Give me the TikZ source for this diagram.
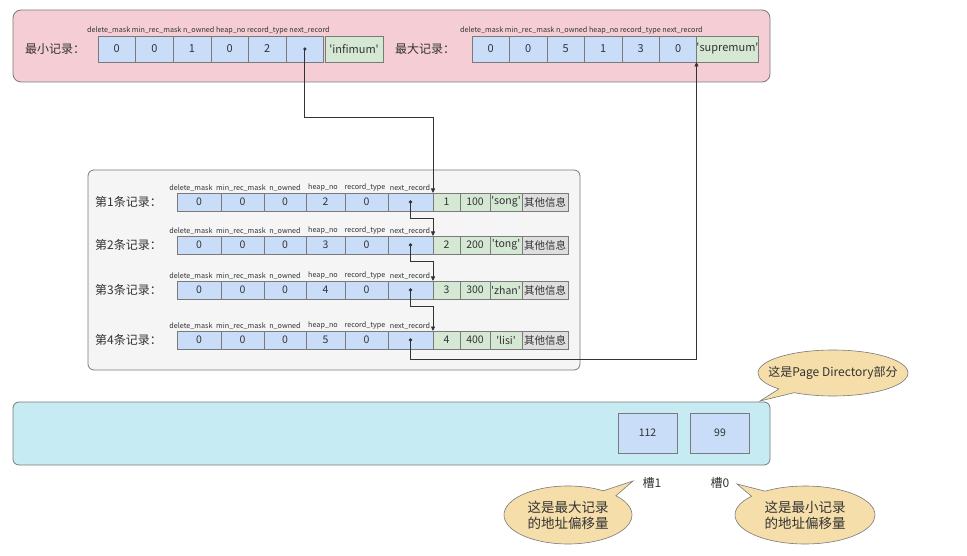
\documentclass[tikz,border=0pt]{standalone}
\usepackage{fontspec}
\setmainfont{Noto Sans CJK SC}
\usepackage{xcolor}
\definecolor{cInk}{HTML}{333333}
\definecolor{cLine}{HTML}{7A7A7A}
\definecolor{cPink}{HTML}{F4CED4}
\definecolor{cBlue}{HTML}{C9DDF8}
\definecolor{cGreen}{HTML}{D5E8D4}
\definecolor{cGrayCell}{HTML}{DEDEDE}
\definecolor{cPanel}{HTML}{F5F5F5}
\definecolor{cCyan}{HTML}{C6EBF2}
\definecolor{cNote}{HTML}{F5DEAA}
\usepackage{tikz}
\usetikzlibrary{positioning,arrows.meta,shapes.callouts}
\newcommand{\qs}[1]{\textquotesingle#1\textquotesingle}
\tikzset{
  panel-sys/.style={draw=cLine,fill=cPink,rounded corners=8pt,line width=0.8pt},
  panel-rec/.style={draw=cLine,fill=cPanel,rounded corners=6pt,line width=0.8pt},
  panel-dir/.style={draw=cLine,fill=cCyan,rounded corners=6pt,line width=0.8pt},
  cell/.style={draw=cLine,fill=cBlue,inner sep=0pt,outer sep=0pt,line width=0.5pt,
    minimum height=18pt,text=cInk,font=\fontsize{10.5}{12}\selectfont},
  cell-tall/.style={minimum height=26pt,minimum width=37.6pt,font=\fontsize{11}{13}\selectfont},
  cell-green/.style={fill=cGreen},
  cell-gray/.style={fill=cGrayCell},
  head/.style={inner sep=1pt,text=cInk,font=\fontsize{7.2}{8}\selectfont},
  label-big/.style={inner sep=0pt,text=cInk,font=\fontsize{12}{14}\selectfont},
  dot/.style={circle,fill=cInk,inner sep=0pt,minimum size=3.6pt},
  link/.style={-{Triangle[length=4.5pt,width=4pt]},draw=cInk,line width=0.7pt},
  slot/.style={draw=cLine,fill=cBlue,line width=0.6pt,minimum width=59pt,
    minimum height=40pt,text=cInk,font=\fontsize{10.5}{12}\selectfont},
  note/.style={ellipse callout,draw=cLine,fill=cNote,line width=0.6pt,align=center,
    inner sep=0pt,text=cInk},
}

\begin{document}
\begin{tikzpicture}[x=1pt,y=-1pt]
  \useasboundingbox (0,0) rectangle (967,556);
  % 系统记录
  \draw[panel-sys] (13,10) rectangle (770,82);
  \node[label-big,anchor=west] (inf-label) at (25,49) {最小记录：};
  \node[head,anchor=south west] (inf-head) at (86,35)
    {delete\_mask min\_rec\_mask n\_owned heap\_no record\_type next\_record};
  \foreach \v [count=\i] in {0,0,1,0,2,{}}
    \node[cell,cell-tall] (inf-\i) at (116.8+37.6*\i-37.6,49) {\v};
  \node[cell,cell-tall,cell-green,minimum width=58pt] (inf-7) at (354,49) {\qs{infimum}};
  \node[dot] (inf-dot) at (inf-6.center) {};

  \node[label-big,anchor=west] (sup-label) at (395,49) {最大记录：};
  \node[head,anchor=south west] (sup-head) at (459,35)
    {delete\_mask min\_rec\_mask n\_owned heap\_no record\_type next\_record};
  \foreach \v [count=\i] in {0,0,5,1,3,0}
    \node[cell,cell-tall,minimum width=37.5pt] (sup-\i) at (490.75+37.5*\i-37.5,49) {\v};
  \node[cell,cell-tall,cell-green,minimum width=61pt] (sup-7) at (727.5,49) {\qs{supremum}};

  % 用户记录
  \draw[panel-rec] (88,170) rectangle (580,370);
  \foreach \r/\y/\h/\amt/\who in {1/202/2/100/song,2/245/3/200/tong,3/290/4/300/zhan,4/340/5/400/lisi}{
    \node[label-big,anchor=west] (r\r-label) at (95,\y) {第\r{}条记录：};
    \foreach \x/\w/\v/\hx/\t [count=\i] in {199/44/0/191/delete\_mask,242.5/43/0/241/min\_rec\_mask,
        285/42/0/285/n\_owned,325.5/39/\h/323/heap\_no,366.5/43/0/365/record\_type,
        410.5/45/{}/410/next\_record}{
      \node[cell,minimum width=\w pt] (r\r-\i) at (\x,\y) {\v};
      \node[head,anchor=south] (r\r-h\i) at (\hx,\y-9.5) {\t};
    }
    \node[cell,cell-green,minimum width=27pt] (r\r-7) at (446.5,\y) {\r};
    \node[cell,cell-green,minimum width=30pt] (r\r-8) at (475,\y) {\amt};
    \node[cell,cell-green,minimum width=32pt] (r\r-9) at (506,\y) {\qs{\who}};
    \node[cell,cell-gray,minimum width=46pt] (r\r-10) at (545,\y) {其他信息};
    \node[dot] (r\r-dot) at (r\r-6.center) {};
  }

  \draw[link] (inf-dot.center) -- ++(0,68) -| (r1-7.north west);
  \foreach \a/\b in {1/2,2/3,3/4}
    \draw[link] (r\a-dot.center) -- ++(0,16) -| (r\b-7.north west);
  \draw[link] (r4-dot.center) -- ++(0,19) -| (sup-7.south west);

  % Page Directory
  \draw[panel-dir] (13,402) rectangle (770,465);
  \node[slot] (slot-1) at (647.5,433) {112};
  \node[slot] (slot-0) at (720,433) {99};
  \node[label-big] (slot-1-name) at (652,483) {槽1};
  \node[label-big] (slot-0-name) at (720,483) {槽0};

  \coordinate (dir-tip) at (760,401);
  \coordinate (max-tip) at (633,481);
  \coordinate (min-tip) at (737,484);
  \node[note,minimum width=150pt,minimum height=46pt,inner xsep=-14pt,
    font=\fontsize{12}{14}\selectfont,
    callout absolute pointer={(dir-tip)}] (dir-note) at (833,373) {这是Page Directory部分};
  \node[note,minimum width=128pt,minimum height=58pt,font=\fontsize{13.5}{16}\selectfont,
    callout absolute pointer={(max-tip)}] (max-note) at (568,515) {这是最大记录\\的地址偏移量};
  \node[note,minimum width=140pt,minimum height=58pt,font=\fontsize{13.5}{16}\selectfont,
    callout absolute pointer={(min-tip)}] (min-note) at (805,515) {这是最小记录\\的地址偏移量};
\end{tikzpicture}
\end{document}
